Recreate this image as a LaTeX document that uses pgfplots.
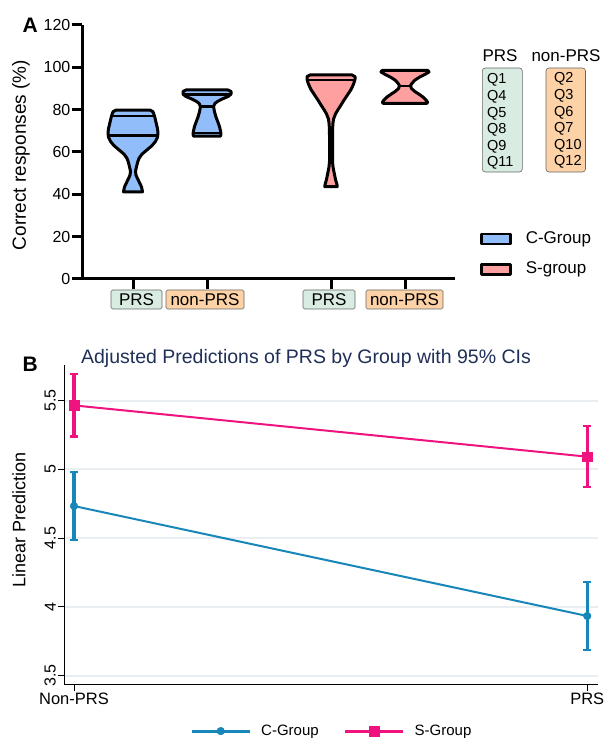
\documentclass[border=0pt]{standalone}
\usepackage{fontspec}
\setmainfont{Liberation Sans}
\usepackage{pgfplots}
\pgfplotsset{compat=1.18}

\definecolor{cfill}{HTML}{91BEFA}
\definecolor{sfill}{HTML}{FFA0A0}
\definecolor{prsbox}{HTML}{D8ECE2}
\definecolor{nonbox}{HTML}{FDD2A6}
\definecolor{cblue}{HTML}{1787B9}
\definecolor{spink}{HTML}{EE137F}
\definecolor{gridc}{HTML}{E8EEF1}
\definecolor{titlec}{HTML}{1F2F58}
\newcommand{\fs}[2]{\fontsize{#1}{#2}\selectfont}

\begin{document}
\begin{tikzpicture}[x=1pt,y=1pt]
\useasboundingbox (0,0) rectangle (605,738);

% ---------------- panel A: violins
\begin{axis}[
    at={(82pt,459pt)}, anchor=south west,
    scale only axis, width=373pt, height=254pt,
    xmin=-51, xmax=322, ymin=0, ymax=120,
    axis x line=bottom, axis y line=left,
    axis line style={line width=3pt, -},
    xtick={0,74,198,272}, xticklabels={},
    ytick={0,20,...,120},
    tick align=outside, major tick length=10.5pt,
    tick style={line width=3pt, black},
    yticklabel style={font=\fs{16}{19}, inner sep=1pt},
    /pgf/number format/assume math mode=true,
    clip=false,
    legend cell align=left,
    legend image code/.code={\draw[#1, line width=2.6pt] (0pt,-5pt) rectangle (29pt,5pt);},
    legend style={draw=none, fill=none, at={(1.067,0.098)}, anchor=west,
        inner sep=0pt, row sep=15pt, font=\fs{17}{20},
        nodes={inner sep=0pt, text height=12pt, text depth=3.5pt},
        /tikz/every odd column/.append style={column sep=14pt}},
]
% C-Group, PRS
\addplot[draw=black, fill=cfill, line width=3pt, line join=round] coordinates {
 (17,79.8) (20,79) (21.5,77) (23,74) (24.5,71) (25,69) (24.5,67) (22.5,65) (19,63) (14,61)
 (9,59) (6,57) (4.5,55) (3.5,53) (2.5,51) (3,49) (4.5,47.5) (6.5,45.5) (8.5,43.5) (9.5,41.2)
 (-9.5,41.2) (-8.5,43.5) (-6.5,45.5) (-4.5,47.5) (-3,49) (-2.5,51) (-3.5,53) (-4.5,55) (-6,57) (-9,59)
 (-14,61) (-19,63) (-22.5,65) (-24.5,67) (-25,69) (-24.5,71) (-23,74) (-21.5,77) (-20,79) (-17,79.8)
} -- cycle;
\addlegendentry{C-Group}
% C-Group, non-PRS
\addplot[draw=black, fill=cfill, line width=3pt, line join=round, forget plot] coordinates {
 (95,89.3) (98,88.6) (98,87.3) (95,86.2) (90,85.2) (85,84) (82,83) (80.5,81.5) (81.5,79) (83,76.5)
 (85,74) (86.5,72) (87.5,70) (88,68.5) (87.5,67.5)
 (60.5,67.5) (60,68.5) (60.5,70) (61.5,72) (63,74) (65,76.5) (66.5,79) (67.5,81.5) (66,83) (63,84)
 (58,85.2) (53,86.2) (50,87.3) (50,88.6) (53,89.3)
} -- cycle;
% S-group, PRS
\addplot[draw=black, fill=sfill, line width=3pt, line join=round] coordinates {
 (219,96.4) (222,95.6) (222,94.3) (220.5,92) (218,89.5) (214.5,87) (211,84.5) (208,82.2) (205,80) (202.5,78)
 (200.5,75.5) (199.8,73) (199.5,68) (199.5,60) (199.5,55.5) (200,53) (201,50.5) (202.5,47) (204,44.5) (204.2,43.6)
 (191.8,43.6) (192,44.5) (193.5,47) (195,50.5) (196,53) (196.5,55.5) (196.5,60) (196.5,68) (196.2,73) (195.5,75.5)
 (193.5,78) (191,80) (188,82.2) (185,84.5) (181.5,87) (178,89.5) (175.5,92) (174,94.3) (174,95.6) (177,96.4)
} -- cycle;
\addlegendentry{S-group}
% S-group, non-PRS
\addplot[draw=black, fill=sfill, line width=3pt, line join=round, forget plot] coordinates {
 (295,98.5) (296,97.8) (292.5,96.8) (287,95.5) (282,94) (279,92.5) (277.5,91.3) (278.5,90) (281.5,88.7) (286,87.3)
 (290.5,85.8) (293.5,84.3) (294.5,83.5) (294,83)
 (250,83) (249.5,83.5) (250.5,84.3) (253.5,85.8) (258,87.3) (262.5,88.7) (265.5,90) (266.5,91.3) (265,92.5) (262,94)
 (257,95.5) (251.5,96.8) (248,97.8) (249,98.5)
} -- cycle;
% median and quartile lines
\addplot[black, line width=2.4pt, forget plot] coordinates {(-21.5,77) (21.5,77)};
\addplot[black, line width=2.4pt, forget plot] coordinates {(-24.8,67.7) (24.8,67.7)};
\addplot[black, line width=2.4pt, forget plot] coordinates {(50,87.1) (98,87.1)};
\addplot[black, line width=2.4pt, forget plot] coordinates {(67.2,81.4) (80.8,81.4)};
\addplot[black, line width=2.4pt, forget plot] coordinates {(60.2,69) (87.8,69)};
\addplot[black, line width=2.4pt, forget plot] coordinates {(174,94) (222,94)};
\addplot[black, line width=2.4pt, forget plot] coordinates {(266.5,91.3) (277.5,91.3)};
\end{axis}

\node[font=\fs{21}{24}\bfseries, anchor=base west] at (19,705) {A};
\node[font=\fs{19}{22}, rotate=90] at (21,583) {Correct responses (\%)};

% category boxes under the ticks
\begin{scope}[every node/.style={draw=gray!80!black, line width=0.6pt, rounded corners=1.5pt,
    minimum height=19pt, inner sep=0pt, font=\fs{17}{20}}]
\node[fill=prsbox, minimum width=51pt] at (136.5,438.5) {PRS};
\node[fill=nonbox, minimum width=78pt] at (205,438.5) {non-PRS};
\node[fill=prsbox, minimum width=52pt] at (329,438.5) {PRS};
\node[fill=nonbox, minimum width=77pt] at (404.5,438.5) {non-PRS};
\end{scope}

% question key
\node[font=\fs{17}{20}, anchor=base] at (500,676) {PRS};
\node[font=\fs{17}{20}, anchor=base] at (566,676) {non-PRS};
\node[draw=gray!80!black, line width=0.6pt, fill=prsbox, rounded corners=3pt, minimum width=40pt,
    minimum height=104pt, inner sep=0pt, anchor=north west] at (482,670.3) {};
\node[draw=gray!80!black, line width=0.6pt, fill=nonbox, rounded corners=3pt, minimum width=39.5pt,
    minimum height=104pt, inner sep=0pt, anchor=north west] at (545.7,670.3) {};
\foreach \q [count=\i from 0] in {Q1,Q4,Q5,Q8,Q9,Q11}
    \node[anchor=base west, font=\fs{14.5}{16}, inner sep=0pt] at (487,{654-16.6*\i}) {\q};
\foreach \q [count=\i from 0] in {Q2,Q3,Q6,Q7,Q10,Q12}
    \node[anchor=base west, font=\fs{14.5}{16}, inner sep=0pt] at (554,{655-16.6*\i}) {\q};

% ---------------- panel B: adjusted predictions
\begin{axis}[
    at={(64pt,53pt)}, anchor=south west,
    scale only axis, width=534pt, height=320pt,
    xmin=-0.0195, xmax=1.021, ymin=3.432, ymax=5.76,
    axis x line=bottom, axis y line=left,
    axis line style={line width=1pt, -},
    xtick={0,1}, xticklabels={Non-PRS,PRS},
    ytick={3.5,4,4.5,5,5.5}, yticklabels={3.5,4,4.5,5,5.5},
    tick align=outside, major tick length=6pt,
    tick style={line width=1pt, black},
    ymajorgrids, major grid style={line width=2pt, gridc},
    yticklabel style={rotate=90, anchor=south, font=\fs{16}{19}, inner sep=2pt},
    xticklabel style={font=\fs{16.5}{19}, inner sep=2pt},
    /pgf/number format/assume math mode=true,
    clip=false,
    legend columns=2,
    legend image code/.code={\draw[mark repeat=2, mark phase=2, #1, line width=3pt]
        plot coordinates {(0pt,0pt) (29pt,0pt) (58pt,0pt)};},
    legend style={draw=none, fill=none, at={(0.236,-0.144)}, anchor=west,
        inner sep=0pt, font=\fs{15}{18},
        nodes={inner sep=0pt},
        /tikz/every odd column/.append style={column sep=10pt},
        /tikz/every even column/.append style={column sep=25pt}},
]
\addplot[cblue, line width=2pt, mark=*, mark size=3.8pt, mark options={solid, fill=cblue, line width=0.5pt},
    error bars/.cd, y dir=both, y explicit,
    error bar style={line width=3.2pt, cblue},
    error mark options={rotate=90, line width=2.2pt, mark size=4pt, cblue}]
    coordinates {(0,4.734) +- (0,0.245) (1,3.934) +- (0,0.245)};
\addlegendentry{C-Group}
\addplot[spink, line width=2pt, mark=square*, mark size=4.8pt, mark options={solid, fill=spink, line width=0.5pt},
    error bars/.cd, y dir=both, y explicit,
    error bar style={line width=3.2pt, spink},
    error mark options={rotate=90, line width=2.2pt, mark size=4pt, spink}]
    coordinates {(0,5.466) +- (0,0.226) (1,5.093) +- (0,0.222)};
\addlegendentry{S-Group}
\end{axis}

\node[font=\fs{21}{24}\bfseries, anchor=base west] at (19,366.3) {B};
\node[font=\fs{19.5}{23}, text=titlec, anchor=base] at (306,374) {Adjusted Predictions of PRS by Group with 95\% CIs};
\node[font=\fs{18}{21}, rotate=90] at (19,218) {Linear Prediction};
\end{tikzpicture}
\end{document}
